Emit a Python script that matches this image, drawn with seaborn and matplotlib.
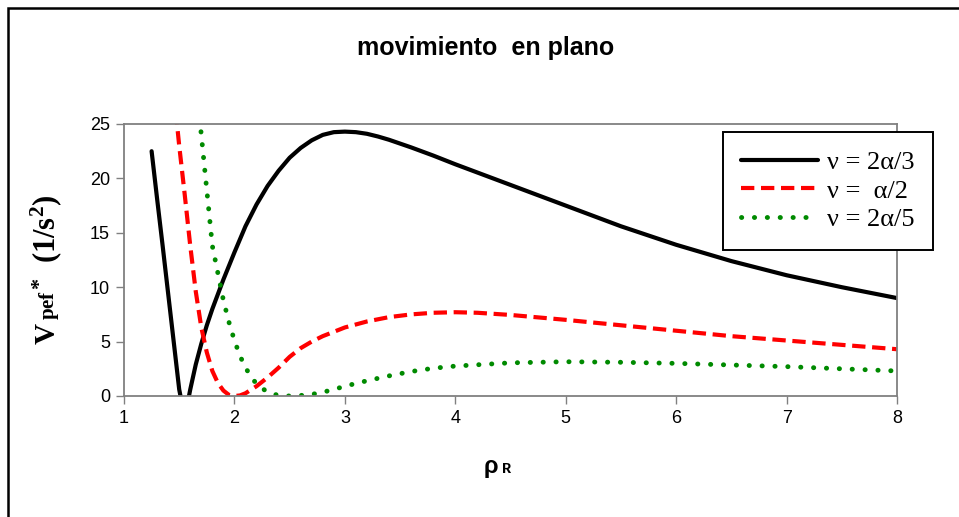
import matplotlib
matplotlib.use('Agg')
import matplotlib.pyplot as plt
from matplotlib.patches import Rectangle
import seaborn as sns
import pandas as pd

# datos
x_23 = [1.25, 1.30, 1.35, 1.40, 1.45, 1.50, 1.55, 1.60, 1.65, 1.70, 1.75, 1.80,
        1.90, 2.00, 2.10, 2.20, 2.30, 2.40, 2.50, 2.60, 2.70, 2.80, 2.90, 3.00,
        3.10, 3.20, 3.30, 3.40, 3.50, 3.60, 3.80, 4.00, 4.50, 5.00, 5.50, 6.00,
        6.50, 7.00, 7.50, 8.00]
v_23 = [22.5, 18.1, 13.8, 9.4, 5.0, 0.6, -2.0, 0.6, 2.9, 4.8, 6.5, 8.0,
        10.7, 13.2, 15.6, 17.6, 19.3, 20.7, 21.9, 22.8, 23.5, 24.0, 24.25, 24.3,
        24.25, 24.1, 23.85, 23.55, 23.2, 22.85, 22.1, 21.3, 19.4, 17.5, 15.6, 13.9,
        12.4, 11.1, 10.0, 9.0]

x_12 = [1.45, 1.50, 1.55, 1.60, 1.65, 1.70, 1.75, 1.80, 1.85, 1.90, 1.95, 2.00,
        2.05, 2.10, 2.20, 2.30, 2.40, 2.50, 2.60, 2.70, 2.80, 2.90, 3.00, 3.20,
        3.40, 3.60, 3.80, 4.00, 4.20, 4.50, 5.00, 5.50, 6.00, 6.50, 7.00, 7.50, 8.00]
v_12 = [28.0, 23.0, 18.5, 13.8, 9.6, 6.3, 4.0, 2.3, 1.2, 0.5, 0.1, 0.0,
        0.05, 0.25, 0.9, 1.7, 2.6, 3.6, 4.4, 5.0, 5.5, 5.9, 6.3, 6.85,
        7.25, 7.5, 7.65, 7.7, 7.65, 7.45, 7.0, 6.5, 6.0, 5.5, 5.1, 4.7, 4.3]

x_25 = [1.65, 1.70, 1.75, 1.80, 1.85, 1.90, 1.95, 2.00, 2.05, 2.10, 2.15, 2.20,
        2.30, 2.40, 2.50, 2.60, 2.70, 2.80, 2.90, 3.00, 3.20, 3.40, 3.60, 3.80,
        4.00, 4.50, 5.00, 5.50, 6.00, 6.50, 7.00, 7.50, 8.00]
v_25 = [29.0, 24.0, 18.9, 13.8, 11.3, 8.8, 6.8, 5.1, 3.7, 2.6, 1.8, 1.1,
        0.35, 0.05, 0.0, 0.05, 0.15, 0.35, 0.6, 0.9, 1.4, 1.85, 2.25, 2.55,
        2.75, 3.05, 3.15, 3.1, 3.0, 2.85, 2.7, 2.5, 2.3]

etiquetas = ['ν = 2α/3', 'ν =  α/2', 'ν = 2α/5']
x_ticks = [1, 2, 3, 4, 5, 6, 7, 8]
y_ticks = [0, 5, 10, 15, 20, 25]

sns.set_style('white')
plt.rcParams['font.family'] = ['Liberation Sans', 'DejaVu Sans']
plt.rcParams['text.color'] = 'black'
plt.rcParams['mathtext.fontset'] = 'custom'
plt.rcParams['mathtext.rm'] = 'Liberation Serif'
plt.rcParams['mathtext.bf'] = 'Liberation Serif:bold'
plt.rcParams['mathtext.it'] = 'Liberation Serif:italic'

fig = plt.figure(figsize=(9.59, 5.17), dpi=100)
ax = fig.add_axes([124 / 959, 1 - 396 / 517, 773 / 959, 272 / 517])

df1 = pd.DataFrame({'rho': x_23, 'V': v_23})
df2 = pd.DataFrame({'rho': x_12, 'V': v_12})
df3 = pd.DataFrame({'rho': x_25, 'V': v_25})

sns.lineplot(data=df1, x='rho', y='V', ax=ax, color='black', lw=3.0,
             label=etiquetas[0], sort=False)
sns.lineplot(data=df2, x='rho', y='V', ax=ax, color='#ff0000', lw=3.0,
             label=etiquetas[1], sort=False)
sns.lineplot(data=df3, x='rho', y='V', ax=ax, color='#008a00', lw=3.5,
             label=etiquetas[2], sort=False)
lineas = ax.get_lines()
lineas[1].set_linestyle((0, (3.2, 1.6)))
lineas[1].set_dash_capstyle('butt')
lineas[2].set_linestyle((0, (0.05, 2.6)))
lineas[2].set_dash_capstyle('round')

ax.set_xlim(1, 8)
ax.set_ylim(0, 25)
ax.set_xticks(x_ticks)
ax.set_yticks(y_ticks)
ax.tick_params(axis='both', direction='out', length=6, width=1, color='#808080',
               labelcolor='black', labelsize=13, pad=4, bottom=True, left=True)
for s in ax.spines.values():
    s.set_color('#808080')
    s.set_linewidth(1.3)
ax.set_xlabel('')
ax.set_ylabel('')

# etiqueta eje y en piezas
fig.text(47 / 959, 1 - 334 / 517, r'$\mathbf{V}$', rotation=90,
         ha='center', va='center', fontsize=21)
fig.text(49 / 959, 1 - 305 / 517, r'$\mathbf{pef}$', rotation=90,
         ha='center', va='center', fontsize=15)
fig.text(39 / 959, 1 - 284 / 517, r'$\mathbf{*}$', rotation=90,
         ha='center', va='center', fontsize=16)
fig.text(46 / 959, 1 - 229 / 517, r'$\mathbf{(1/s^{2})}$', rotation=90,
         ha='center', va='center', fontsize=22)

fig.text(491 / 959, 1 - 467 / 517, 'ρ', family=['Liberation Sans', 'DejaVu Sans'],
         fontweight='bold', fontsize=17, ha='center', va='center')
fig.text(502 / 959, 1 - 469 / 517, 'R', family=['Liberation Mono'],
         fontweight='bold', fontsize=11, ha='left', va='center')

fig.text(486 / 959, 1 - 48 / 517, 'movimiento  en plano', fontsize=18,
         fontweight='bold', ha='center', va='center')

leg = ax.legend(loc='upper left', bbox_to_anchor=(723 / 959, 1 - 132 / 517),
                bbox_transform=fig.transFigure, prop={'family': 'Liberation Serif', 'size': 19},
                frameon=True, fancybox=False, framealpha=1, edgecolor='black',
                handlelength=2.9, handletextpad=0.35, labelspacing=0.2,
                borderpad=0.7, borderaxespad=0)
leg.get_frame().set_linewidth(1.4)

fig.patches.append(Rectangle((8 / 959, -0.1), 1.2, 1.1 - 8 / 517, transform=fig.transFigure,
                             fill=False, edgecolor='black', lw=1.8))

plt.savefig('out.png', dpi=100)
